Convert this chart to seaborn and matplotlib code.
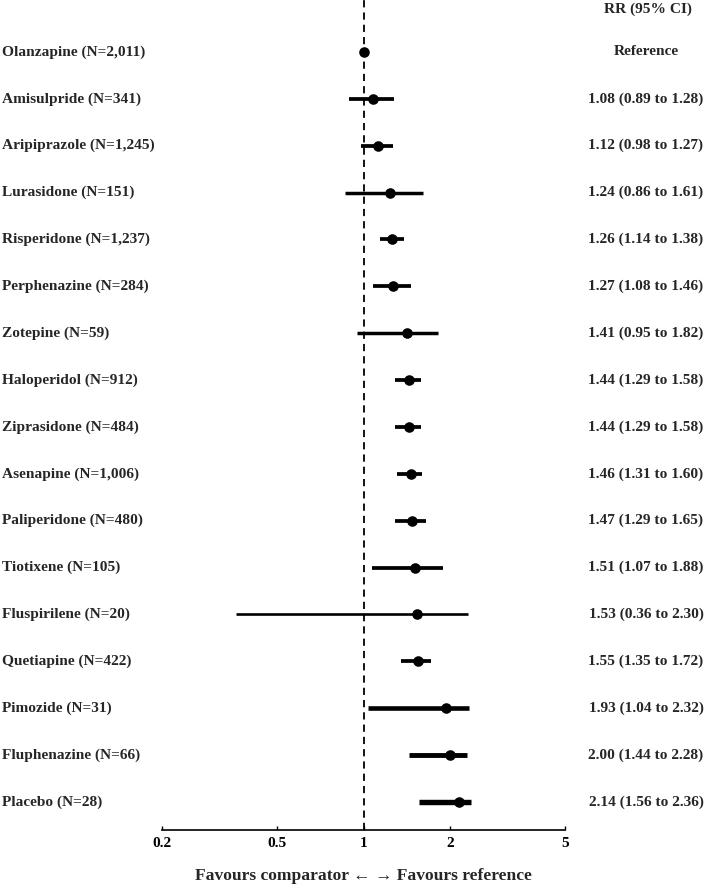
import numpy as np
import pandas as pd
import matplotlib
matplotlib.use("Agg")
import matplotlib.pyplot as plt
import matplotlib.transforms as mtransforms
import seaborn as sns

# data
drugs = ['Olanzapine', 'Amisulpride', 'Aripiprazole', 'Lurasidone', 'Risperidone',
         'Perphenazine', 'Zotepine', 'Haloperidol', 'Ziprasidone', 'Asenapine',
         'Paliperidone', 'Tiotixene', 'Fluspirilene', 'Quetiapine', 'Pimozide',
         'Fluphenazine', 'Placebo']
n_pts = ['2,011', '341', '1,245', '151', '1,237', '284', '59', '912', '484', '1,006',
         '480', '105', '20', '422', '31', '66', '28']
rr = [1.00, 1.08, 1.12, 1.24, 1.26, 1.27, 1.41, 1.44, 1.44, 1.46, 1.47, 1.51, 1.53,
      1.55, 1.93, 2.00, 2.14]
lo = [np.nan, 0.89, 0.98, 0.86, 1.14, 1.08, 0.95, 1.29, 1.29, 1.31, 1.29, 1.07, 0.36,
      1.35, 1.04, 1.44, 1.56]
hi = [np.nan, 1.28, 1.27, 1.61, 1.38, 1.46, 1.82, 1.58, 1.58, 1.60, 1.65, 1.88, 2.30,
      1.72, 2.32, 2.28, 2.36]
line_w = [0, 2.7, 2.7, 2.5, 2.7, 2.7, 2.5, 2.7, 2.7, 2.7, 2.7, 2.7, 1.9, 2.7, 3.3, 3.5, 3.9]
xticks = [0.2, 0.5, 1, 2, 5]

df = pd.DataFrame({'drug': drugs, 'n': n_pts, 'rr': rr, 'lo': lo, 'hi': hi, 'lw': line_w})
df['row'] = np.arange(len(df))

sns.set_style("white")
plt.rcParams['font.family'] = ['Liberation Serif', 'DejaVu Serif']
plt.rcParams['font.weight'] = 'bold'
fs = 11.1

W, H = 709, 886
fig = plt.figure(figsize=(W / 100, H / 100), dpi=100)
ax = fig.add_axes([162 / W, (H - 830) / H, 403 / W, 830 / H])

row_gap = 46.875
ax.set_xscale('log')
ax.set_xlim(0.2, 5)
ax.set_ylim(16 + 28 / row_gap, -52 / row_gap)

ax.axvline(1, color='black', lw=1.3, linestyle=(0, (4, 2.8)), zorder=1)

ci = df.dropna()
for _, r in ci.iterrows():
    ax.hlines(r['row'], r['lo'], r['hi'], color='black', lw=r['lw'], zorder=2)
sns.scatterplot(data=df, x='rr', y='row', color='black', s=58, edgecolor='black',
                linewidth=0, zorder=3, ax=ax, legend=False)

trans = mtransforms.blended_transform_factory(fig.transFigure, ax.transData)
for _, r in df.iterrows():
    ax.text(2 / W, r['row'], f"{r['drug']} (N={r['n']})", transform=trans,
            ha='left', va='center', fontsize=fs, fontweight='bold', clip_on=False)
    if np.isnan(r['lo']):
        txt = 'Reference'
    else:
        txt = f"{r['rr']:.2f} ({r['lo']:.2f} to {r['hi']:.2f})"
    ax.text(646 / W, r['row'], txt, transform=trans, ha='center', va='center',
            fontsize=fs, fontweight='bold', clip_on=False)
ax.text(648 / W, -43 / row_gap, 'RR (95% CI)', transform=trans, ha='center',
        va='center', fontsize=fs, fontweight='bold', clip_on=False)

ax.set_xticks(xticks)
ax.set_xticklabels([str(t) for t in xticks])
ax.minorticks_off()
ax.tick_params(axis='x', direction='in', length=3, width=1, pad=5, labelsize=fs,
               colors='black', bottom=True)
ax.set_yticks([])
for lab in ax.get_xticklabels():
    lab.set_fontweight('bold')
sns.despine(ax=ax, left=True, top=True, right=True)
ax.spines['bottom'].set_color('black')
ax.spines['bottom'].set_linewidth(1.2)

ax.set_xlabel('Favours comparator \u2190 \u2192 Favours reference', fontsize=12.6,
              fontweight='bold', labelpad=13)
ax.set_ylabel('')

fig.savefig('out.png', dpi=100)
